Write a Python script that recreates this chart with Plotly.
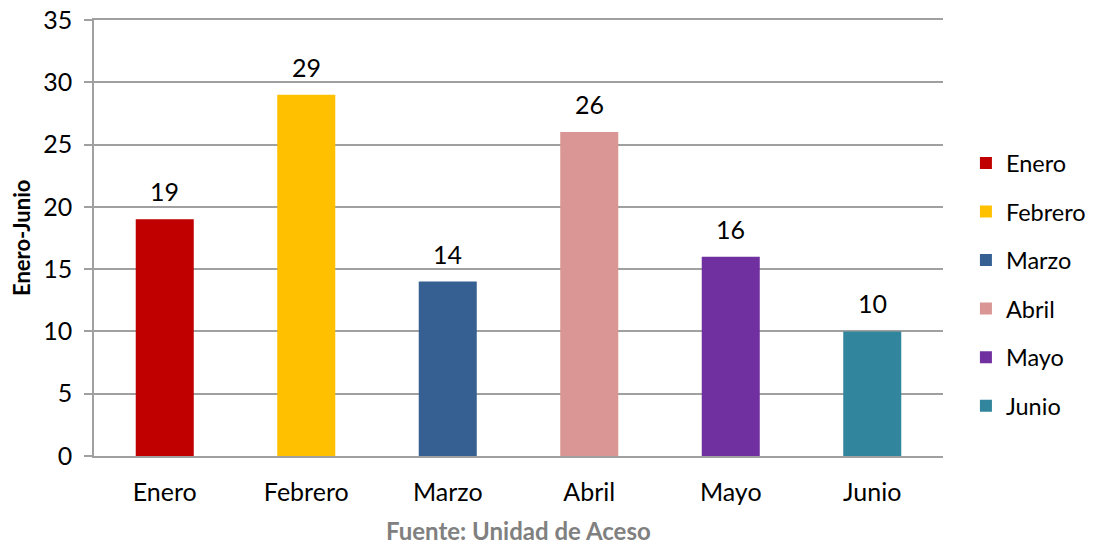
import plotly.graph_objects as go

# data
months = ["Enero", "Febrero", "Marzo", "Abril", "Mayo", "Junio"]
values = [19, 29, 14, 26, 16, 10]
colors = ["#c00000", "#ffc000", "#366092", "#da9694", "#7030a0", "#31859c"]

FONT = "Lato"

fig = go.Figure()
for m, v, c in zip(months, values, colors):
    fig.add_trace(go.Bar(
        x=[m], y=[v], name=m, legendgroup=m,
        marker=dict(color=c, line=dict(width=0)),
        width=0.41,
    ))
    # value label above each bar
    fig.add_annotation(
        x=m, y=v, text=str(v), showarrow=False,
        yanchor="middle", yshift=28,
        font=dict(size=25, color="#000000", family=FONT),
    )

# page body has an 8px margin, so the figure is drawn 8px smaller
fig.update_layout(
    width=1088, height=536,
    barmode="overlay",
    plot_bgcolor="white", paper_bgcolor="white",
    margin=dict(l=86, r=153, t=12, b=88, autoexpand=False),
    font=dict(family=FONT, size=25, color="#000000"),
    showlegend=True,
    legend=dict(
        x=1.027, y=0.393, xanchor="left", yanchor="middle",
        font=dict(size=23.5, family=FONT),
        tracegroupgap=15, itemwidth=30,
    ),
)

fig.add_annotation(
    text="<b>Fuente: Unidad de Aceso</b>",
    x=0.5, y=-0.17, xref="paper", yref="paper",
    xanchor="center", yanchor="middle", showarrow=False,
    font=dict(size=24, color="#808080", family=FONT),
)
fig.add_annotation(
    text="<b>Enero-Junio</b>", textangle=-90,
    x=-0.086, y=0.5, xref="paper", yref="paper",
    xanchor="center", yanchor="middle", showarrow=False,
    font=dict(size=22, color="#000000", family=FONT),
)

# mirror=True gives the top border line where the 35 gridline sits
fig.update_xaxes(
    type="category", categoryorder="array", categoryarray=months,
    showgrid=False, showline=True, linecolor="#a0a0a0", linewidth=1.5,
    mirror=True,
    ticks="", ticklabelstandoff=13,
    tickfont=dict(size=25, family=FONT),
)
fig.update_yaxes(
    range=[0, 35], dtick=5, tick0=0,
    showgrid=True, gridcolor="#a0a0a0", gridwidth=1.5,
    showline=True, linecolor="#a0a0a0", linewidth=1.5,
    ticks="outside", ticklen=8, tickcolor="#a0a0a0", tickwidth=1.5,
    ticklabelstandoff=7, ticklabeloverflow="allow",
    zeroline=False,
    tickfont=dict(size=25, family=FONT),
)

fig.write_html("out.html")
